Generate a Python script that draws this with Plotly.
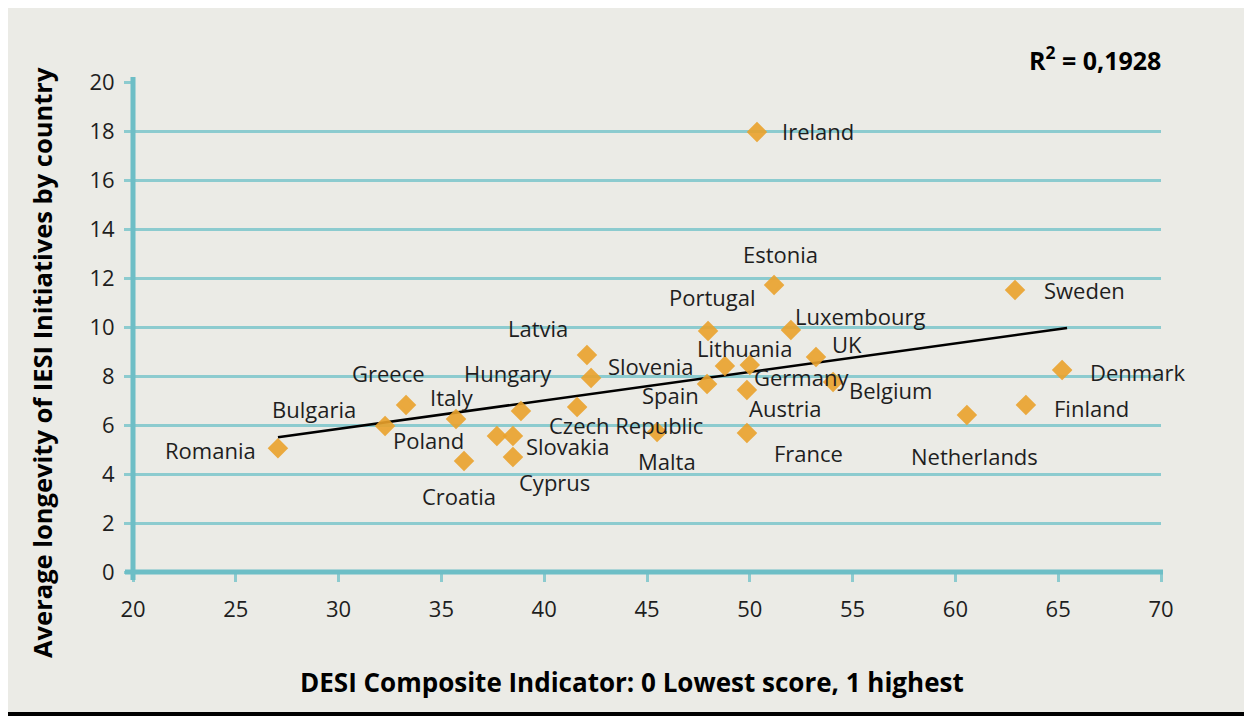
import plotly.graph_objects as go

# ---------------- data ----------------
countries = ["Romania", "Bulgaria", "Greece", "Italy", "Croatia", "Poland", "Slovakia",
             "Cyprus", "Hungary", "Czech Republic", "Latvia", "Slovenia", "Malta", "Spain",
             "Portugal", "Lithuania", "Germany", "Austria", "France", "Estonia", "Ireland",
             "Luxembourg", "UK", "Belgium", "Netherlands", "Sweden", "Finland", "Denmark"]
desi = [27.05, 32.26, 33.28, 35.71, 36.10, 37.70, 38.48,
        38.48, 38.87, 41.60, 42.08, 42.28, 45.49, 47.92,
        47.97, 48.79, 50.00, 49.86, 49.86, 51.18, 50.35,
        52.00, 53.22, 54.05, 60.56, 62.90, 63.43, 65.19]
longevity = [5.05, 5.96, 6.82, 6.24, 4.53, 5.55, 5.55,
             4.69, 6.57, 6.73, 8.86, 7.92, 5.71, 7.67,
             9.84, 8.41, 8.45, 7.43, 5.67, 11.71, 17.96,
             9.88, 8.78, 7.76, 6.41, 11.51, 6.82, 8.24]
trend_x = [27.05, 65.43]
trend_y = [5.50, 9.96]
r2_text = "R<sup>2</sup> = 0,1928"
x_ticks = [20, 25, 30, 35, 40, 45, 50, 55, 60, 65, 70]
y_ticks = [0, 2, 4, 6, 8, 10, 12, 14, 16, 18, 20]
x_title = "DESI Composite Indicator: 0 Lowest score, 1 highest"
y_title = "Average longevity of IESI Initiatives by country"

# ---------------- label placement (anchor, dx px, dy px down) ----------------
label_pos = {
    "Romania": ("right", -20, 2), "Bulgaria": ("right", -27, -17), "Greece": ("center", -18, -32),
    "Italy": ("center", -4, -22), "Croatia": ("center", -5, 35), "Poland": ("right", -31, 4),
    "Hungary": ("center", -13, -38), "Slovakia": ("left", 11, 10), "Cyprus": ("left", 4, 25),
    "Latvia": ("right", -17, -27), "Slovenia": ("left", 15, -12), "Czech Republic": ("center", 49, 18),
    "Malta": ("center", 10, 29), "Spain": ("right", -6, 11), "Portugal": ("center", 4, -34),
    "Lithuania": ("center", 20, -18), "Germany": ("left", 2, 12), "Austria": ("left", 0, 18),
    "France": ("left", 25, 20), "Estonia": ("center", 6, -31), "Ireland": ("left", 23, -1),
    "Luxembourg": ("left", 2, -14), "UK": ("left", 14, -13), "Belgium": ("left", 14, 8),
    "Netherlands": ("center", 8, 41), "Sweden": ("left", 27, 0), "Finland": ("left", 26, 3),
    "Denmark": ("left", 26, 2),
}

# ---------------- styles ----------------
OFF = 8                      # page body margin
W, H = 1244, 708
L, R, T, B = 125, 1153, 74, 564
BG = "#ebebe6"
TEAL_GRID = "#8ccbcf"
TEAL_AXIS = "#6dbec6"
ORANGE = "#eaa22c"
TXT = "#1e1e1e"
FONT = "Open Sans"

def px_x(X):   # page pixel -> paper
    return (X - OFF - L) / (R - L)

def px_y(Y):
    return (B - (Y - OFF)) / (B - T)

fig = go.Figure()
fig.add_trace(go.Scatter(x=trend_x, y=trend_y, mode="lines",
                         line=dict(color="black", width=2.5), hoverinfo="skip", showlegend=False))
fig.add_trace(go.Scatter(x=desi, y=longevity, mode="markers", text=countries,
                         marker=dict(symbol="diamond", size=12.5, color=ORANGE, opacity=0.9,
                                     line=dict(color=ORANGE, width=3)),
                         showlegend=False))

annotations = []
for c, xv, yv in zip(countries, desi, longevity):
    anc, dx, dy = label_pos[c]
    annotations.append(dict(x=xv, y=yv, xref="x", yref="y", text=c, showarrow=False,
                            xanchor=anc, yanchor="middle", xshift=dx, yshift=-dy,
                            font=dict(family=FONT, size=22, color=TXT)))
annotations.append(dict(x=px_x(1163), y=px_y(58), xref="paper", yref="paper", text=r2_text,
                        showarrow=False, xanchor="right", yanchor="middle",
                        font=dict(family=FONT, size=25, color="black", weight="bold")))
annotations.append(dict(x=px_x(632), y=px_y(682), xref="paper", yref="paper", text=x_title,
                        showarrow=False, xanchor="center", yanchor="middle",
                        font=dict(family=FONT, size=26, color="black", weight="bold")))
annotations.append(dict(x=px_x(42), y=px_y(363), xref="paper", yref="paper", text=y_title,
                        showarrow=False, xanchor="center", yanchor="middle", textangle=-90,
                        font=dict(family=FONT, size=25.5, color="black", weight="bold")))

shapes = [
    # bottom black rule
    dict(type="rect", xref="paper", yref="paper", x0=px_x(0), x1=px_x(1260), y0=px_y(712), y1=px_y(717),
         fillcolor="black", line=dict(width=0), layer="above"),
    # axis lines
    dict(type="line", xref="paper", yref="paper", x0=px_x(133), x1=px_x(133), y0=px_y(77), y1=px_y(580),
         line=dict(color=TEAL_AXIS, width=5), layer="above"),
    dict(type="line", xref="paper", yref="paper", x0=px_x(125), x1=px_x(1163), y0=0, y1=0,
         line=dict(color=TEAL_AXIS, width=5), layer="above"),
]

fig.update_layout(
    width=W, height=H,
    margin=dict(l=L, r=W - R, t=T, b=H - B, pad=0),
    paper_bgcolor=BG, plot_bgcolor=BG,
    annotations=annotations, shapes=shapes,
    font=dict(family=FONT, size=22, color=TXT),
    xaxis=dict(range=[20, 70], tickvals=x_ticks, showgrid=False, zeroline=False, showline=False,
               ticks="outside", ticklen=9, tickwidth=3, tickcolor=TEAL_GRID,
               ticklabelstandoff=9, tickfont=dict(family=FONT, size=22, color=TXT)),
    yaxis=dict(range=[0, 20], tickvals=y_ticks, showgrid=True, gridcolor=TEAL_GRID, gridwidth=3,
               zeroline=False, showline=False, ticks="outside", ticklen=8, tickwidth=3,
               tickcolor=TEAL_GRID, ticklabelstandoff=5,
               tickfont=dict(family=FONT, size=22, color=TXT)),
)

fig.write_html("out.html")
